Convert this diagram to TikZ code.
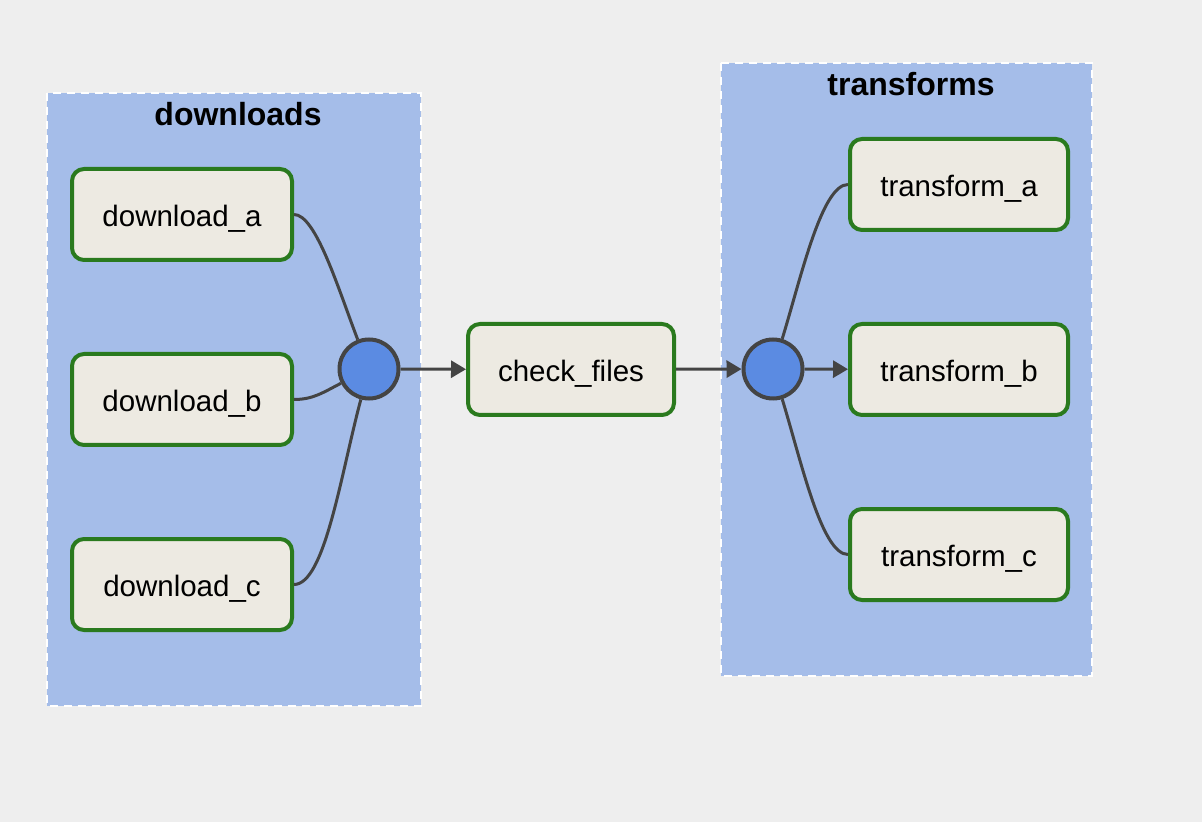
\documentclass[tikz,border=0pt]{standalone}
\usepackage{fontspec}
\setmainfont{Liberation Sans}
\usetikzlibrary{arrows.meta}
\definecolor{bgcol}{HTML}{EEEEEE}
\definecolor{groupblue}{HTML}{A5BDE9}
\definecolor{taskfill}{HTML}{EDEAE2}
\definecolor{taskgreen}{HTML}{2A7A1E}
\definecolor{joinblue}{HTML}{5B8BE2}
\definecolor{edgegray}{HTML}{444444}
\begin{document}
\begin{tikzpicture}[x=0.5pt,y=-0.5pt,
    task/.style={draw=taskgreen,fill=taskfill,line width=2pt,rounded corners=6pt,
        minimum width=110pt,minimum height=45.5pt,inner sep=0pt,
        text height=12.5pt,text depth=0.8pt,
        font=\fontsize{14.75}{17}\selectfont},
    joinpt/.style={circle,draw=edgegray,fill=joinblue,line width=2pt,minimum size=29.5pt,inner sep=0pt},
    groupbox/.style={fill=groupblue,draw=white,line width=1pt,dash pattern=on 4pt off 3pt},
    grouptitle/.style={font=\bfseries\fontsize{16}{19}\selectfont},
    edge/.style={draw=edgegray,line width=1.5pt},
    flow/.style={edge,-{Triangle[length=7.5pt,width=8.5pt]}}]

    \fill[bgcol] (0,0) rectangle (1202,822); %背景
    \useasboundingbox (0,0) rectangle (1202,822);

    \draw[groupbox] (47,93) rectangle (421,706); %downloads
    \draw[groupbox] (721,63) rectangle (1092,676); %transforms
    \node[grouptitle] (dltitle) at (238,114) {downloads};
    \node[grouptitle] (tftitle) at (911,84) {transforms};

    \node[task] (da) at (182,214.5) {download\_a};
    \node[task] (db) at (182,399.5) {download\_b};
    \node[task] (dc) at (182,584.5) {download\_c};
    \node[joinpt] (j1) at (369,369) {}; %合流点
    \node[task,minimum width=103pt] (cf) at (571,369.5) {check\_files};
    \node[joinpt] (j2) at (773,369) {}; %分岐点
    \node[task,minimum width=109pt] (ta) at (959,184.5) {transform\_a};
    \node[task,minimum width=109pt] (tb) at (959,369.5) {transform\_b};
    \node[task,minimum width=109pt] (tc) at (959,554.5) {transform\_c};

    \draw[edge] (da.east) to[out=0,in=111,out looseness=0.4] (j1);
    \draw[edge] (db.east) to[out=0,in=207] (j1);
    \draw[edge] (dc.east) to[out=0,in=255,out looseness=0.4] (j1);
    \draw[flow] (j1) -- (cf);
    \draw[flow] (cf) -- (j2);
    \draw[edge] (j2) to[out=73,in=180,in looseness=0.4] (ta.west);
    \draw[flow] (j2) -- (tb);
    \draw[edge] (j2) to[out=-73,in=180,in looseness=0.4] (tc.west);

\end{tikzpicture}
\end{document}
